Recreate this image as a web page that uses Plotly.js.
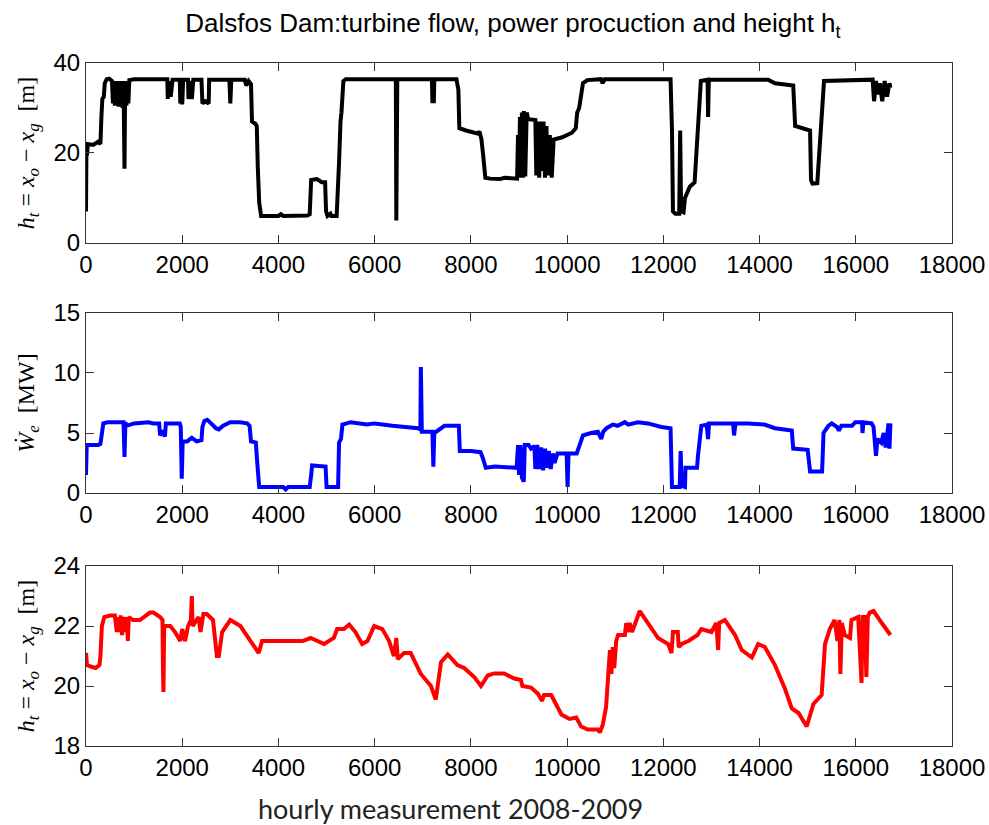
<!DOCTYPE html>
<html>
<head>
<meta charset="utf-8">
<script src="https://cdn.plot.ly/plotly-3.0.1.min.js"></script>
<style>html,body{margin:0;padding:0;background:#fff;}#chart{width:989px;height:825px;}</style>
</head>
<body>
<div id="chart"></div>
<script>
// ---- Data ----
// Top panel: head h_t [m] (black)
var headTopX = [0,10,20,40,150,250,300,320,340,370,390,430,480,540,560,580,600,620,640,660,680,700,720,740,760,780,800,815,840,860,880,900,960,1000,1690,1700,1720,1760,1800,1950,1960,1980,2000,2020,2120,2130,2160,2200,2230,2400,2420,2480,2550,2560,2980,3000,3020,3300,3330,3380,3430,3450,3520,3550,3570,3600,3640,4000,4050,4100,4600,4650,4680,4800,4900,4970,4990,5020,5080,5100,5210,5230,5260,5290,5310,5350,5400,6440,6450,6470,7190,7200,7230,7240,7700,7740,7760,7900,8000,8150,8180,8220,8260,8300,8400,8600,8700,8960,8980,9000,9020,9040,9060,9080,9100,9130,9160,9190,9340,9360,9390,9420,9450,9480,9510,9540,9570,9600,9640,9680,9720,9800,9900,10000,10100,10180,10210,10250,10300,10330,10420,10700,10740,10780,12150,12180,12200,12250,12330,12350,12370,12420,12450,12550,12650,12700,12780,12920,12930,12945,14180,14320,14700,14740,14900,15050,15070,15100,15200,15240,15280,15340,16350,16380,16420,16460,16500,16550,16600,16650,16700,16720];
var headTopY = [7,22,19.5,22,21.8,22.5,22,28,32,32.5,35.5,36.4,36.5,36,31,36,30.5,36,31.5,35.5,30.3,36,31,36,30,36,16.5,36,30.5,36,31,36.2,36.3,36.4,36.4,32,36,32.5,36.3,36.3,31,36,30.8,36.3,36.3,32,36,32,36.3,36.3,31,31.5,31,36.3,36.3,31,36.3,36.3,35,36,35.3,27,26.5,26,17,9,6,6,6.4,6,6.1,6.4,14,14.2,13.5,13.5,7,6,6.5,6,6,14,18,27,29,36,36.4,36.4,5,36.4,36.4,31.5,31.5,36.4,36.4,34,25.5,25,24.7,24.3,24.8,23,19,14.5,14.3,14.2,14.5,14.3,24,14.5,28,15,29,14.5,29.3,14.8,29,27.5,27.3,15,27,14.5,27,16,27,14.5,26,15,24,14.5,23,23.2,23.5,24,24.5,25.5,29,30,33,35.5,36.2,36.4,35.5,36.4,36.4,25,7,6.5,6.5,25,7,6.8,10,12.5,13.5,23.5,36,36.3,28,36.3,36.3,35.5,35,26,25.5,25,14,13.2,13.3,20,28.5,36,36.3,31.5,36,33,35.5,31.5,36,32.5,35.5,34.5];

// Middle panel: power production W_e [MW] (blue)
var powerX = [0,15,100,250,300,330,360,450,780,800,820,840,1000,1300,1400,1520,1540,1600,1640,1660,1950,1970,1990,2010,2100,2200,2300,2400,2420,2460,2520,2600,2700,2760,2850,3000,3200,3350,3400,3430,3530,3560,3600,4100,4150,4200,4650,4680,4700,4980,5000,5240,5260,5300,5330,5500,5840,6000,6370,6900,6950,6960,6980,7200,7220,7240,7350,7450,7750,7770,8000,8200,8240,8310,8500,8950,8980,9000,9030,9060,9100,9120,9200,9250,9320,9340,9380,9420,9460,9500,9540,9580,9620,9660,9700,9740,9800,9990,10010,10030,10200,10260,10330,10500,10640,10710,10750,10820,10950,11050,11200,11270,11470,11680,11960,12150,12180,12340,12360,12380,12450,12460,12700,12720,12790,12900,12930,12950,13450,13470,13500,13760,14100,14320,14670,14700,15000,15050,15300,15330,15430,15500,15610,15650,15700,15920,15990,16130,16140,16160,16330,16370,16420,16450,16530,16580,16620,16680,16700,16720];
var powerY = [1.5,4.0,4.0,4.0,4.1,5.0,5.8,5.9,5.9,3.0,5.9,5.6,5.8,5.9,5.8,5.8,4.8,5.2,4.7,5.8,5.8,5.5,1.2,4.3,4.3,4.6,4.3,4.4,5.5,6.0,6.1,5.8,5.4,5.3,5.6,5.9,5.9,5.8,5.6,4.3,4.2,2.5,0.5,0.5,0.3,0.5,0.5,1.5,2.3,2.2,0.5,0.5,4.2,4.5,5.7,5.9,5.7,5.8,5.6,5.4,5.3,10.5,5.1,5.1,2.2,5.0,5.3,5.6,5.6,3.5,3.5,3.4,3.0,2.1,2.2,2.1,4.0,1.5,4.0,1.3,0.95,4.0,4.0,3.7,3.9,2.0,4.0,2.0,3.8,1.9,3.7,2.1,3.5,2.0,3.3,2.5,3.3,3.3,0.5,3.3,3.3,4.0,4.8,5.0,5.1,4.5,5.1,5.4,5.7,5.6,5.9,5.7,5.9,5.8,5.5,5.4,0.5,0.5,3.5,0.6,0.5,2.1,2.1,3.1,5.6,5.7,4.5,5.8,5.8,4.8,5.8,5.8,5.7,5.4,5.2,3.7,3.6,1.8,1.8,5.0,5.6,5.8,5.5,5.2,5.6,5.6,5.9,5.9,5.0,5.9,5.8,5.5,3.1,4.5,4.2,5.0,3.8,5.8,3.7,5.8];

// Bottom panel: head h_t [m] (red)
var headBotX = [0,20,100,200,280,300,330,380,500,600,640,660,690,720,750,780,820,850,870,890,980,1120,1330,1400,1540,1590,1600,1610,1625,1750,1850,1960,2000,2060,2120,2180,2200,2215,2340,2380,2440,2510,2640,2720,2760,2830,3000,3210,3420,3590,3660,4000,4500,4670,4950,5150,5220,5360,5470,5600,5740,5850,5990,6160,6300,6400,6450,6480,6610,6750,6850,6960,7170,7270,7380,7520,7720,7860,8070,8210,8350,8480,8690,8900,9040,9070,9250,9390,9480,9520,9670,9880,10050,10190,10290,10430,10640,10680,10740,10810,10860,10890,10920,10950,10980,11020,11060,11200,11230,11260,11300,11350,11510,11680,11890,12100,12170,12200,12300,12320,12380,12520,12710,12790,13000,13100,13140,13160,13280,13490,13630,13840,13970,14110,14320,14530,14670,14810,14980,15120,15290,15360,15460,15560,15620,15660,15680,15710,15770,15880,15910,16050,16120,16140,16190,16220,16250,16290,16370,16540,16720];
var headBotY = [21.1,20.7,20.65,20.6,20.7,21.0,22.0,22.3,22.35,22.35,21.8,22.3,21.8,22.35,21.7,22.3,21.8,22.3,21.5,22.3,22.2,22.2,22.45,22.45,22.3,22.2,20.5,19.8,22.0,22.0,21.8,21.5,21.9,21.5,22.0,22.2,23.0,22.0,22.3,21.8,22.4,22.4,22.2,21.0,21.0,21.8,22.2,22.0,21.5,21.1,21.5,21.5,21.5,21.6,21.4,21.6,21.9,21.9,22.05,21.8,21.4,21.5,22.0,21.9,21.5,21.0,21.6,20.9,21.1,21.1,20.8,20.4,20.0,19.55,20.8,21.05,20.7,20.6,20.3,20.0,20.35,20.42,20.42,20.25,20.2,20.0,19.95,19.75,19.5,19.7,19.7,19.05,18.9,18.95,18.65,18.55,18.55,18.45,18.7,19.3,20.5,21.2,20.4,21.3,20.6,21.5,21.7,21.7,22.1,21.8,22.1,21.8,22.5,22.1,21.6,21.4,21.1,21.8,21.8,21.3,21.4,21.5,21.7,21.9,21.8,22.1,21.2,22.1,22.2,21.7,21.2,20.95,21.4,21.3,20.7,19.9,19.25,19.1,18.65,19.4,19.7,21.4,21.9,22.2,21.5,22.2,20.4,22.1,21.7,21.6,22.2,22.3,20.1,22.3,22.3,20.3,22.3,22.45,22.5,22.1,21.7];

// Tick values
var xTicks = [0,2000,4000,6000,8000,10000,12000,14000,16000,18000];
var yTopTicks = [0,20,40];
var yMidTicks = [0,5,10,15];
var yBotTicks = [18,20,22,24];

// ---- Styling ----
var tickFont = {family: 'Liberation Sans Narrow, Arial Narrow, Liberation Sans, Arial, sans-serif', size: 24, color: '#000'};
var serif = {family: 'Liberation Serif, DejaVu Serif, serif', size: 24, color: '#000'};

function xAxis(anchor) {
  return {
    anchor: anchor, range: [0, 18000], tickvals: xTicks, ticktext: xTicks.map(String),
    showline: true, linecolor: '#333', linewidth: 1, mirror: 'ticks',
    ticks: 'inside', ticklen: 8, tickcolor: '#333', showgrid: false, zeroline: false,
    tickfont: tickFont, fixedrange: true
  };
}
function yAxis(anchor, domain, range, ticks, title) {
  return {
    anchor: anchor, domain: domain, range: range, tickvals: ticks, ticktext: ticks.map(String),
    showline: true, linecolor: '#333', linewidth: 1, mirror: 'ticks',
    ticks: 'inside', ticklen: 8, tickcolor: '#333', showgrid: false, zeroline: false,
    tickfont: tickFont, fixedrange: true,
    title: {text: title, font: serif, standoff: 12}
  };
}

var hLabel = '<i>h<sub>t</sub></i> = <i>x<sub>o</sub></i> \u2212 <i>x<sub>g</sub></i>  [m]';
var wLabel = '<i>\u1E86<sub>e</sub></i>  [MW]';

var traces = [
  {x: headTopX, y: headTopY, xaxis: 'x', yaxis: 'y', mode: 'lines', line: {color: '#000000', width: 4}, hoverinfo: 'skip'},
  {x: powerX, y: powerY, xaxis: 'x2', yaxis: 'y2', mode: 'lines', line: {color: '#0000ff', width: 4}, hoverinfo: 'skip'},
  {x: headBotX, y: headBotY, xaxis: 'x3', yaxis: 'y3', mode: 'lines', line: {color: '#ff0000', width: 4}, hoverinfo: 'skip'}
];

var layout = {
  width: 989, height: 825,
  margin: {l: 86, r: 37, t: 63, b: 79},
  paper_bgcolor: '#ffffff', plot_bgcolor: '#ffffff',
  showlegend: false,
  title: {
    text: 'Dalsfos Dam:turbine flow, power procuction and height h<sub>t</sub>',
    font: {family: 'Liberation Sans Narrow, Arial Narrow, Liberation Sans, Arial, sans-serif', size: 26, color: '#000'},
    xref: 'paper', x: 0.493, xanchor: 'center', yref: 'container', y: 0.972, yanchor: 'middle'
  },
  xaxis: xAxis('y'),
  xaxis2: xAxis('y2'),
  xaxis3: xAxis('y3'),
  yaxis: yAxis('x', [0.7365, 1.0], [0, 40], yTopTicks, hLabel),
  yaxis2: yAxis('x2', [0.3704, 0.634], [0, 15], yMidTicks, wLabel),
  yaxis3: yAxis('x3', [0, 0.2635], [18, 24], yBotTicks, hLabel),
  annotations: [{
    text: 'hourly measurement 2008-2009', xref: 'paper', yref: 'paper',
    x: (450 - 86) / 866, y: -(808 - 746) / 683, xanchor: 'center', yanchor: 'middle',
    showarrow: false, font: {family: 'Lato, Open Sans, sans-serif', size: 27, color: '#222'}
  }]
};

Plotly.newPlot('chart', traces, layout, {displayModeBar: false, staticPlot: true});
</script>
</body>
</html>
